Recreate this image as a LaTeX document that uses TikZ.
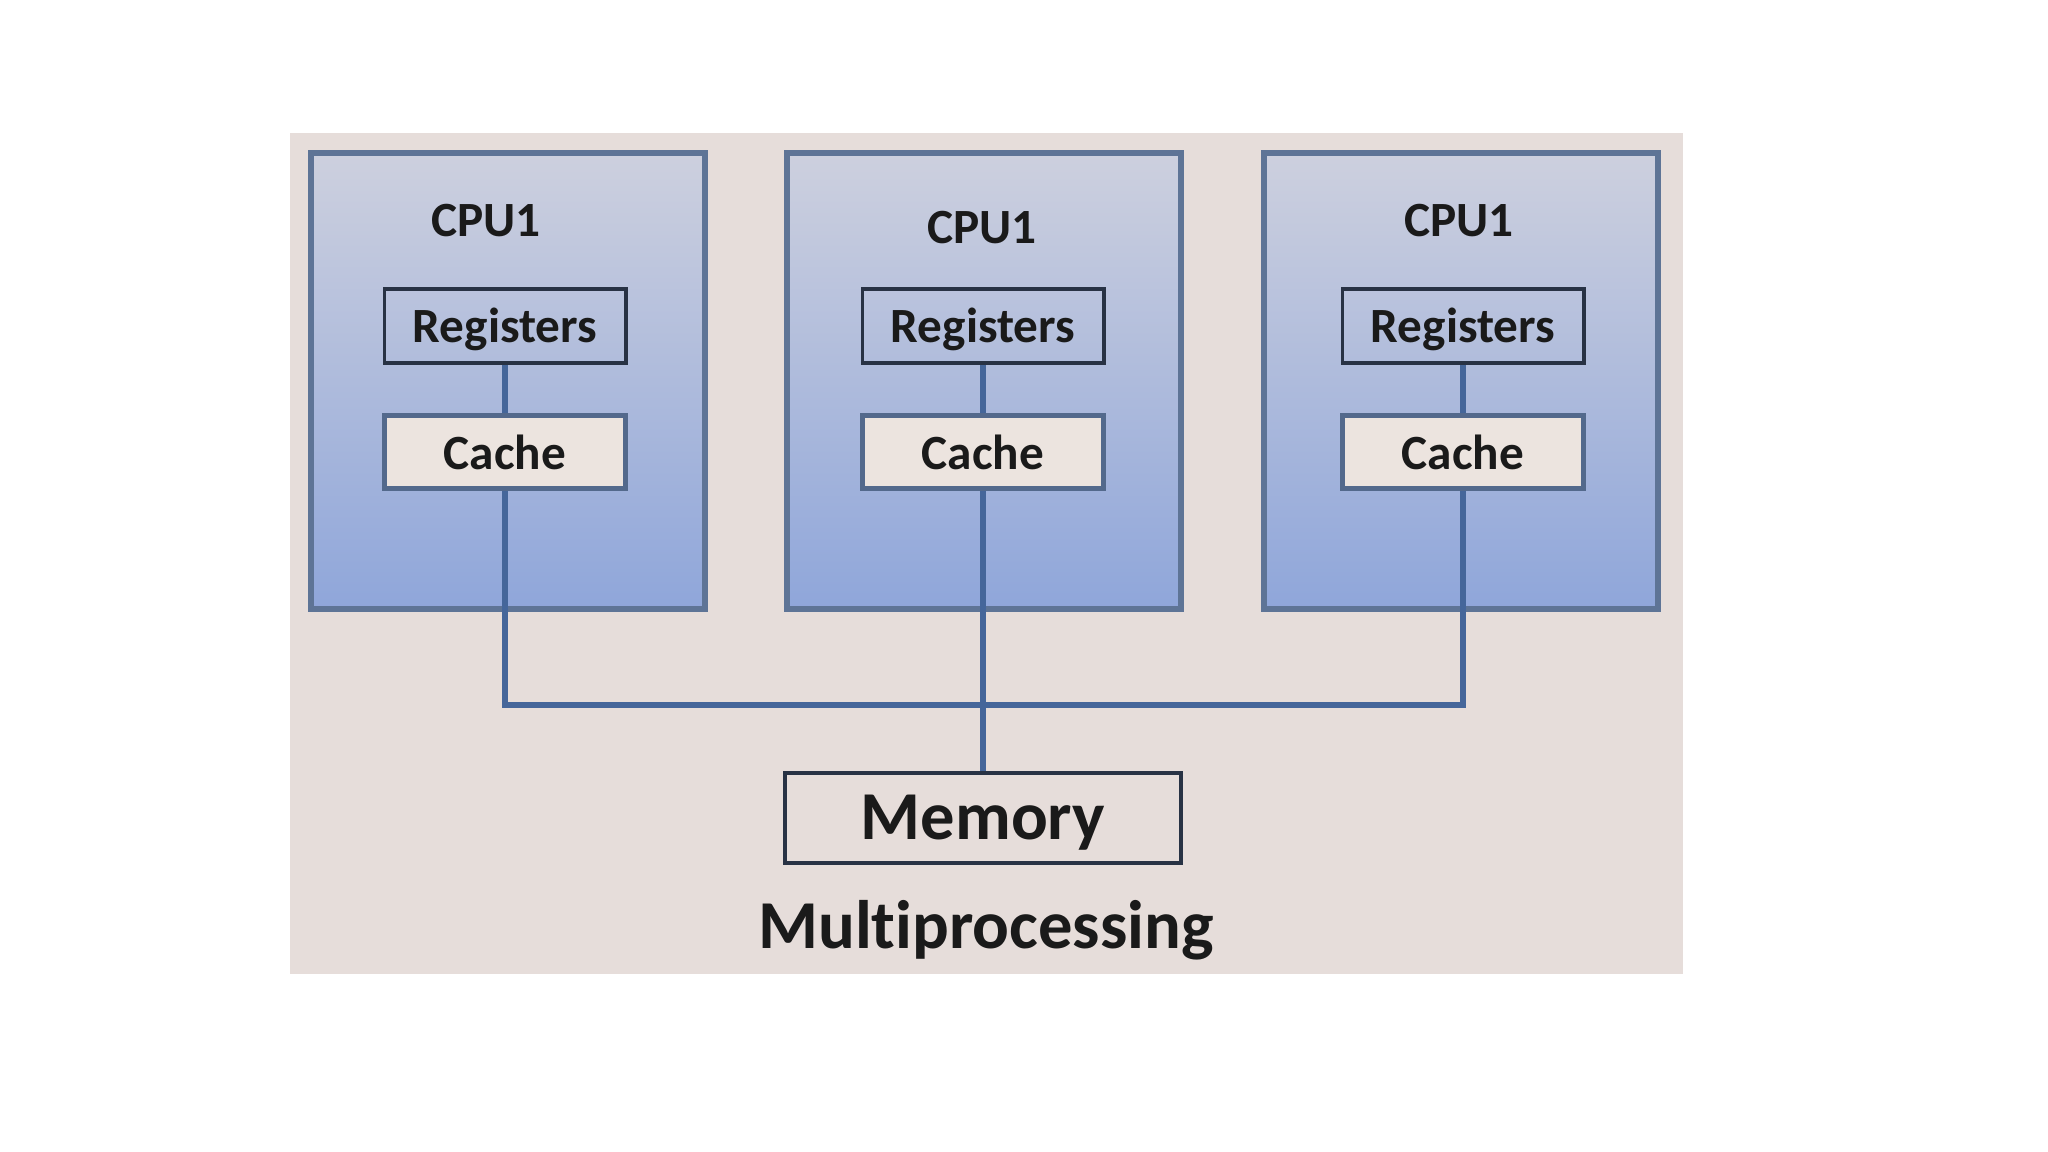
\documentclass[tikz,border=0pt]{standalone}
\usepackage{fontspec}
\setmainfont{Carlito}[Ligatures={NoCommon}]
\definecolor{bgc}{HTML}{E6DDDA}
\definecolor{cputop}{HTML}{CDD0DE}
\definecolor{cpubot}{HTML}{8FA6DA}
\definecolor{cpuedge}{HTML}{5E7496}
\definecolor{regedge}{HTML}{283244}
\definecolor{cachefill}{HTML}{ECE4DF}
\definecolor{cacheedge}{HTML}{53698C}
\definecolor{wire}{HTML}{45669A}
\definecolor{txt}{HTML}{1A1A1A}
\tikzset{
  cpubox/.style={draw=cpuedge, line width=1.5pt, top color=cputop, bottom color=cpubot,
    minimum width=3.94cm, minimum height=4.56cm, inner sep=0pt},
  regbox/.style={draw=regedge, line width=1.1pt, minimum width=2.41cm, minimum height=0.74cm,
    inner sep=0pt, text depth=0.5pt, font=\fontsize{14}{16}\selectfont\bfseries, text=txt},
  cachebox/.style={draw=cacheedge, fill=cachefill, line width=1.5pt, minimum width=2.41cm,
    minimum height=0.73cm, inner sep=0pt, font=\fontsize{14}{16}\selectfont\bfseries, text=txt},
  cpulabel/.style={font=\fontsize{14}{16}\selectfont\bfseries, text=txt, inner sep=0pt, anchor=base},
  membox/.style={draw=regedge, line width=1.1pt, minimum width=3.95cm, minimum height=0.9cm,
    inner sep=0pt, text depth=0.5pt, font=\fontsize{19.5}{22}\selectfont\bfseries, text=txt},
  title/.style={font=\fontsize{19.5}{22}\selectfont\bfseries, text=txt, inner sep=0pt, anchor=base},
  wireline/.style={draw=wire, line width=1.6pt}
}
\begin{document}
\begin{tikzpicture}[x=0.01cm,y=-0.01cm]
\useasboundingbox (0,0) rectangle (2048,1152);
\fill[white] (0,0) rectangle (2048,1152);
\fill[bgc] (290,133) rectangle (1683,974);
% CPU boxes
\node[cpubox] (cpuA) at (508,381) {};
\node[cpubox] (cpuB) at (984,381) {};
\node[cpubox] (cpuC) at (1461,381) {};
\node[cpulabel] (lblA) at (486,237) {CPU1};
\node[cpulabel] (lblB) at (982,244) {CPU1};
\node[cpulabel] (lblC) at (1459,237) {CPU1};
% coordinates for bus
\coordinate (busA) at (505,705);
\coordinate (busB) at (983,705);
\coordinate (busC) at (1463,705);
% registers and caches
\node[regbox] (regA) at (505,326) {Registers};
\node[regbox] (regB) at (983,326) {Registers};
\node[regbox] (regC) at (1463,326) {Registers};
\node[cachebox] (cacheA) at (505,452) {Cache};
\node[cachebox] (cacheB) at (983,452) {Cache};
\node[cachebox] (cacheC) at (1463,452) {Cache};
% memory
\node[membox] (mem) at (983,818) {Memory};
\node[title] (ttl) at (986,948) {Multiprocessing};
% wires
\draw[wireline] (regA.south) -- (cacheA.north);
\draw[wireline] (regB.south) -- (cacheB.north);
\draw[wireline] (regC.south) -- (cacheC.north);
\draw[wireline] (cacheA.south) -- (busA) -- (busC) -- (cacheC.south);
\draw[wireline] (cacheB.south) -- (mem.north);
\end{tikzpicture}
\end{document}
